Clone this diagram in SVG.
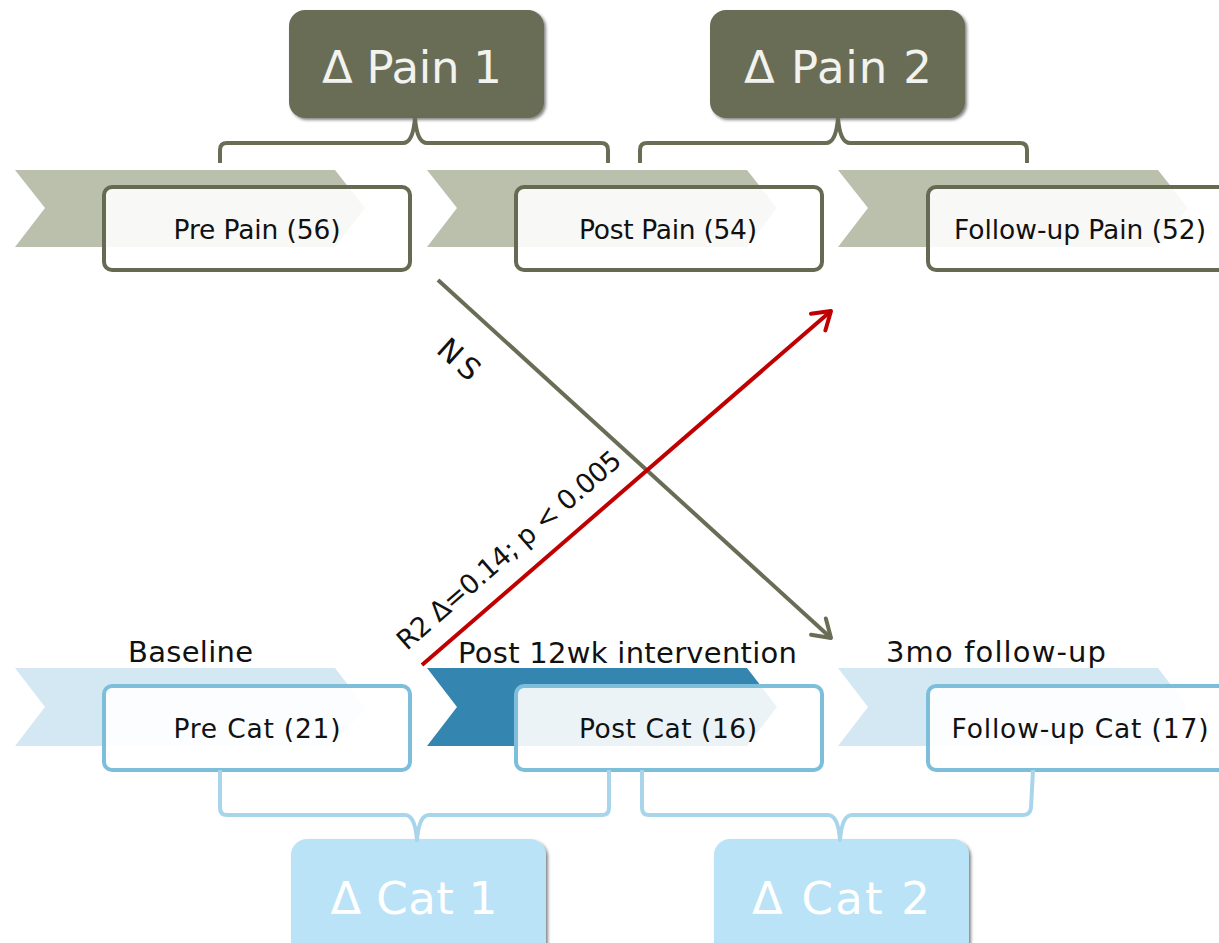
<svg xmlns="http://www.w3.org/2000/svg" width="1219" height="943" viewBox="0 0 1219 943">
  <defs>
    <style>
      text { font-family: "DejaVu Sans", "Liberation Sans", sans-serif; }
      .chev-pain { fill: #bbc0ad; }
      .chev-cat { fill: #d4e8f3; }
      .chev-cat-on { fill: #3485b0; }
      .box-pain { fill: #ffffff; fill-opacity: 0.9; stroke: #666a52; stroke-width: 4; }
      .box-cat { fill: #ffffff; fill-opacity: 0.9; stroke: #7dbedb; stroke-width: 4; }
      .lbl { font-size: 26.5px; fill: #111111; text-anchor: middle; }
      .phase { font-size: 29px; fill: #111111; }
      .head-pain { fill: #696d56; }
      .head-cat { fill: #bae3f7; }
      .head-txt { font-size: 45px; fill: #f2f2ee; text-anchor: middle; }
      .head-txt-cat { font-size: 45px; fill: #ffffff; text-anchor: middle; }
      .brace-pain { fill: none; stroke: #696d56; stroke-width: 4; stroke-linejoin: round; }
      .brace-cat { fill: none; stroke: #a9d5ea; stroke-width: 4; stroke-linejoin: round; }
      .link-ns { stroke: #696d56; stroke-width: 4; fill: none; }
      .link-sig { stroke: #c00000; stroke-width: 4; fill: none; }
      .stat { fill: #111111; text-anchor: middle; }
      .stat-ns { font-size: 30px; }
      .stat-sig { font-size: 27px; }
    </style>
    <filter id="lift" x="-10%" y="-10%" width="125%" height="130%">
      <feDropShadow dx="2" dy="2" stdDeviation="1.5" flood-color="#222222" flood-opacity="0.55"/>
    </filter>
    <marker id="tip-ns" markerUnits="userSpaceOnUse" markerWidth="40" markerHeight="40" viewBox="-20 -20 40 40" refX="0" refY="0" orient="auto">
      <path d="M-17,-11 L0,0 L-17,11" fill="none" stroke="#696d56" stroke-width="4" stroke-linecap="round" stroke-linejoin="round"/>
    </marker>
    <marker id="tip-sig" markerUnits="userSpaceOnUse" markerWidth="40" markerHeight="40" viewBox="-20 -20 40 40" refX="0" refY="0" orient="auto">
      <path d="M-17,-11 L0,0 L-17,11" fill="none" stroke="#c00000" stroke-width="4" stroke-linecap="round" stroke-linejoin="round"/>
    </marker>
  </defs>

  <rect width="1219" height="943" fill="#ffffff"/>

  <!-- pain summary headers -->
  <g id="pain-delta-1">
    <rect class="head-pain" x="289" y="10" width="255" height="108" rx="16" filter="url(#lift)"/>
    <text class="head-txt" x="412" y="83" textLength="180">Δ Pain 1</text>
  </g>
  <g id="pain-delta-2">
    <rect class="head-pain" x="710" y="10" width="255" height="108" rx="16" filter="url(#lift)"/>
    <text class="head-txt" x="838" y="83" textLength="188">Δ Pain 2</text>
  </g>

  <!-- pain measurements -->
  <g id="pre-pain">
    <polygon class="chev-pain" points="15,170 335,170 365,208 335,247 15,247 45,208"/>
    <rect class="box-pain" x="104" y="187" width="306" height="83" rx="8"/>
    <text class="lbl" x="257" y="239" textLength="167">Pre Pain (56)</text>
  </g>
  <g id="post-pain">
    <polygon class="chev-pain" points="427,170 747,170 777,208 747,247 427,247 457,208"/>
    <rect class="box-pain" x="516" y="187" width="306" height="83" rx="8"/>
    <text class="lbl" x="668" y="239" textLength="178">Post Pain (54)</text>
  </g>
  <g id="followup-pain">
    <polygon class="chev-pain" points="838,170 1158,170 1188,208 1158,247 838,247 868,208"/>
    <rect class="box-pain" x="928" y="187" width="306" height="83" rx="8"/>
    <text class="lbl" x="1080" y="239" textLength="252">Follow-up Pain (52)</text>
  </g>

  <!-- catastrophizing measurements -->
  <g id="pre-cat">
    <text class="phase" x="128" y="662" textLength="125">Baseline</text>
    <polygon class="chev-cat" points="15,668 335,668 365,707 335,746 15,746 45,707"/>
    <rect class="box-cat" x="104" y="686" width="306" height="84" rx="8"/>
    <text class="lbl" x="257" y="738" textLength="167">Pre Cat (21)</text>
  </g>
  <g id="post-cat">
    <text class="phase" x="458" y="663" textLength="339">Post 12wk intervention</text>
    <polygon class="chev-cat-on" points="427,668 747,668 777,707 747,746 427,746 457,707"/>
    <rect class="box-cat" x="516" y="686" width="306" height="84" rx="8"/>
    <text class="lbl" x="668" y="738" textLength="178">Post Cat (16)</text>
  </g>
  <g id="followup-cat">
    <text class="phase" x="886" y="662" textLength="220">3mo follow-up</text>
    <polygon class="chev-cat" points="838,668 1158,668 1188,707 1158,746 838,746 868,707"/>
    <rect class="box-cat" x="928" y="686" width="306" height="84" rx="8"/>
    <text class="lbl" x="1080" y="738" textLength="257">Follow-up Cat (17)</text>
  </g>

  <!-- catastrophizing summary boxes -->
  <g id="cat-delta-1">
    <rect class="head-cat" x="291" y="839" width="255" height="120" rx="16" filter="url(#lift)"/>
    <text class="head-txt-cat" x="414" y="914" textLength="167">Δ Cat 1</text>
  </g>
  <g id="cat-delta-2">
    <rect class="head-cat" x="714" y="839" width="255" height="120" rx="16" filter="url(#lift)"/>
    <text class="head-txt-cat" x="841" y="914" textLength="178">Δ Cat 2</text>
  </g>

  <!-- connectors: braces and paths -->
  <g id="connectors">
    <path class="brace-pain" d="M220,163 V150 Q220,143 227,143 H403 Q413,143 415,118 Q417,143 427,143 H601 Q608,143 608,150 V163"/>
    <path class="brace-pain" d="M640,163 V150 Q640,143 647,143 H826 Q836,143 838,118 Q840,143 850,143 H1020 Q1027,143 1027,150 V163"/>
    <path class="brace-cat" d="M220,770 V808 Q220,815 227,815 H405 Q415,815 417,840 Q419,815 429,815 H602 Q609,815 609,808 V770"/>
    <path class="brace-cat" d="M642,770 V808 Q642,815 649,815 H828 Q838,815 840,840 Q842,815 852,815 H1023 Q1030,815 1031,808 L1033,770"/>

    <line class="link-ns" x1="438" y1="280" x2="831" y2="638" marker-end="url(#tip-ns)"/>
    <line class="link-sig" x1="422" y1="665" x2="831" y2="311" marker-end="url(#tip-sig)"/>

    <text class="stat stat-ns" transform="translate(452,367) rotate(42)" textLength="46">NS</text>
    <text class="stat stat-sig" transform="translate(515,557) rotate(-41)" textLength="287">R2 Δ=0.14; p &lt; 0.005</text>
  </g>
</svg>
